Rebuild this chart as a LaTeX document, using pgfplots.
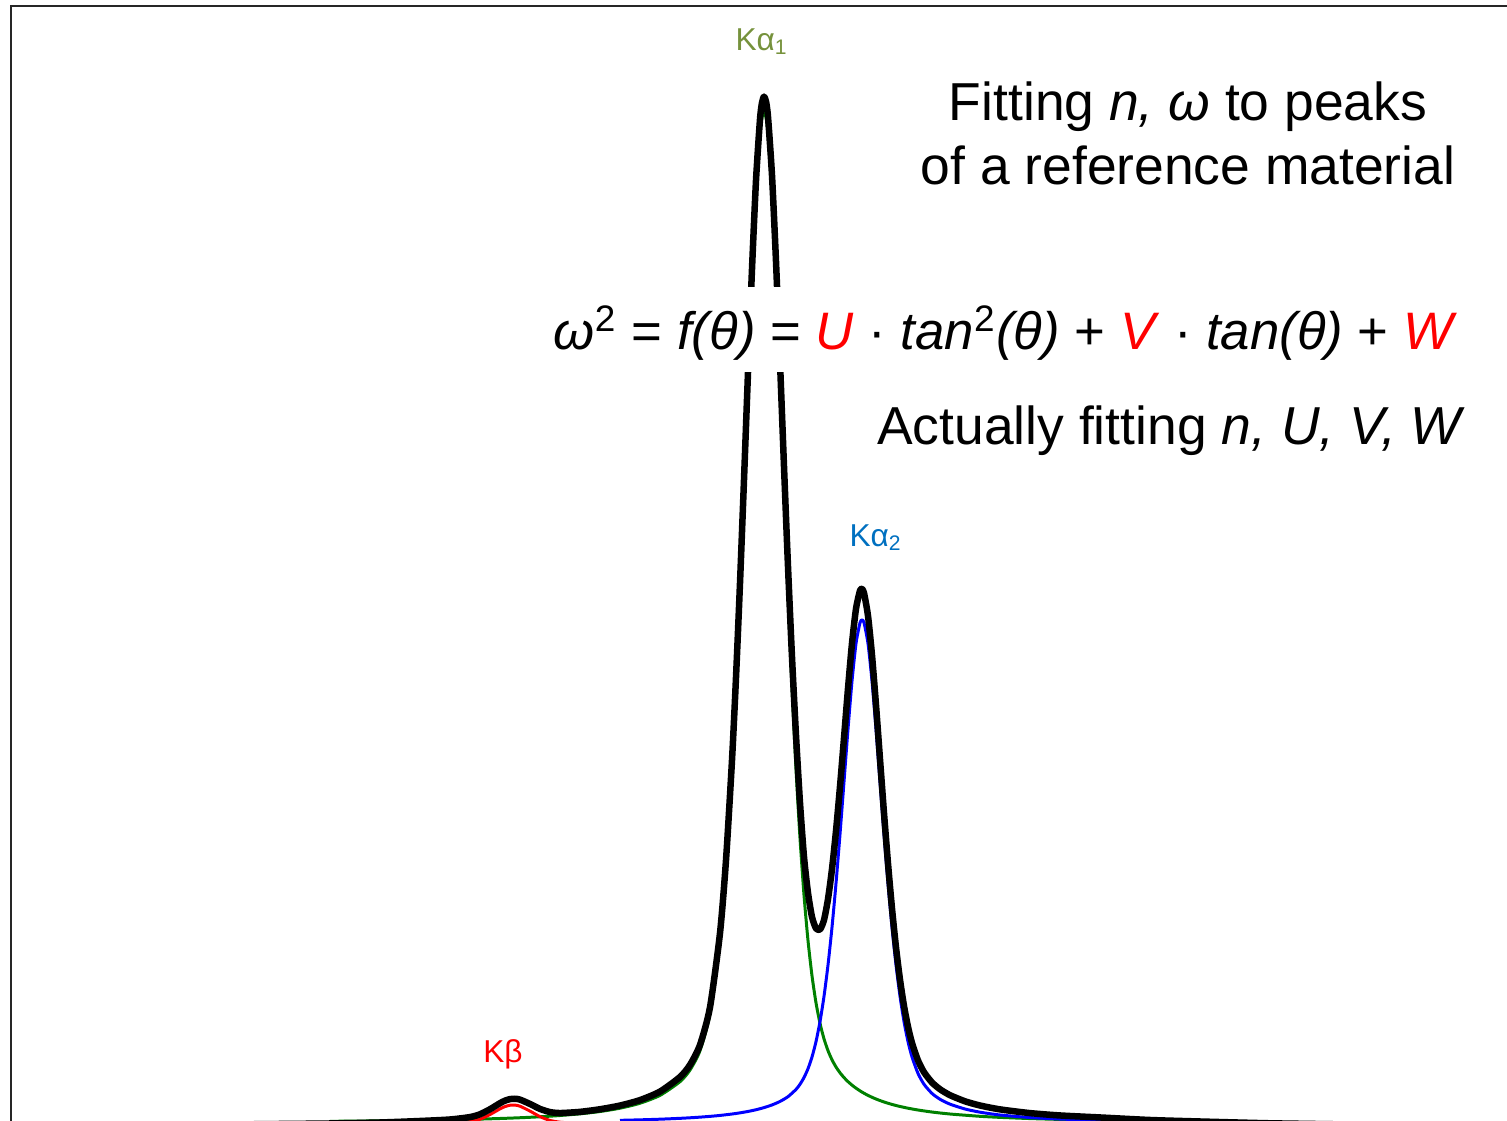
\documentclass[border=0pt]{standalone}
\usepackage{pgfplots}
\pgfplotsset{compat=1.18}
\usepackage{pgfplotstable}
\usepackage{fontspec}
\setmainfont{Liberation Sans}

\definecolor{kaone}{RGB}{118,146,60}
\definecolor{katwo}{RGB}{0,112,192}
\definecolor{curvegreen}{RGB}{0,128,0}

% K-beta component
\pgfplotstableread{
x y
450 -2.00
460 -1.68
470 -0.73
480 1.78
490 6.44
500 12.13
505 14.42
510 15.77
515 15.90
520 14.78
530 9.90
540 4.34
550 0.53
560 -1.24
570 -1.83
}\kbeta

% K-alpha1 component
\pgfplotstableread{
x y
330 -0.33
380 0.13
420 0.66
450 1.18
470 1.63
480 1.88
490 2.18
500 2.49
510 2.85
520 3.25
530 3.70
540 4.22
550 4.80
560 5.48
580 7.16
600 9.47
620 12.79
640 17.74
660 25.62
680 39.34
690 50.95
700 70.31
710 107.15
720 180.42
726 252.61
732 351.98
736 434.11
740 527.94
744 630.62
748 737.18
752 839.73
756 927.41
760 987.50
762 1003.55
764 1009.00
766 1003.55
768 987.50
772 927.41
776 839.73
780 737.18
784 630.62
788 527.94
792 434.11
796 351.98
800 282.56
804 225.72
808 180.42
812 145.13
816 118.11
820 97.61
824 82.11
828 70.31
832 61.19
836 54.00
840 48.20
844 43.39
848 39.34
852 35.85
856 32.81
860 30.13
864 27.73
868 25.62
872 23.71
876 21.99
880 20.43
884 19.03
888 17.74
892 16.57
896 15.50
900 14.52
908 12.79
918 10.98
932 8.95
950 6.97
980 4.68
1000 3.61
1030 2.43
1060 1.58
1100 0.78
1150 0.11
1200 -0.34
}\kaone

% K-alpha2 component
\pgfplotstableread{
x y
620 0.66
640 1.15
660 1.79
680 2.66
690 3.20
700 3.85
710 4.62
720 5.56
732 6.97
740 8.14
748 9.54
756 11.25
764 13.38
772 16.05
780 19.54
788 24.34
796 31.57
800 36.72
804 43.44
808 52.30
812 64.02
816 79.41
820 99.35
824 124.68
828 156.04
832 193.77
836 237.65
840 286.77
844 339.23
848 391.82
852 439.91
856 477.46
860 498.29
862 501.00
864 498.29
868 477.46
872 439.91
876 391.82
880 339.23
884 286.77
888 237.65
892 193.77
896 156.04
900 124.68
904 99.35
908 79.41
912 64.02
918 47.56
924 36.72
932 27.55
940 21.73
950 16.83
965 11.99
980 8.80
1000 5.99
1030 3.45
1060 1.95
1100 0.75
1150 -0.12
1200 -0.63
1270 -1.06
}\katwo

% Measured pattern
\pgfplotstableread{
x y
230 -3.50
280 -3.00
330 -2.50
380 -1.50
420 0.00
450 1.50
470 3.92
480 6.73
490 11.75
500 17.81
505 20.32
510 21.88
515 22.24
520 21.36
530 17.02
540 12.07
550 8.93
560 7.95
580 9.12
600 11.74
620 15.45
640 20.89
660 29.41
680 44.00
690 56.15
700 76.16
710 113.77
720 187.98
726 260.83
732 360.95
736 443.64
740 538.08
744 641.42
748 748.72
752 852.08
756 940.66
760 1001.75
762 1018.34
764 1024.38
766 1019.54
768 1004.13
772 945.46
776 859.40
780 758.72
784 654.35
788 554.28
792 463.66
796 385.55
800 318.00
804 264.00
808 228.00
812 204.00
816 192.50
820 191.50
824 201.00
828 222.00
832 252.00
836 290.00
840 334.50
844 383.00
848 432.50
852 477.76
856 512.27
860 530.42
862 531.91
864 528.02
868 505.08
872 465.62
876 415.81
880 361.66
884 307.80
888 257.39
892 212.34
896 173.54
900 141.20
904 114.97
908 94.20
912 78.04
918 60.54
924 48.77
932 38.50
940 31.73
950 25.80
965 19.69
980 15.48
1000 11.60
1030 7.88
1060 5.53
1100 3.53
1150 1.00
1200 -0.50
1270 -2.30
1350 -3.50
}\total

\begin{document}
\begin{tikzpicture}
\useasboundingbox (0,0) rectangle (15.07,11.21);
\begin{axis}[
  at={(0,0)}, anchor=south west,
  width=15.07cm, height=11.21cm, scale only axis,
  xmin=0, xmax=1507, ymin=0, ymax=1121,
  hide axis,
]
% frame
\draw[line width=0.6pt, black!85] (axis cs:11,0) -- (axis cs:11,1115) -- (axis cs:1507,1115);

\addplot[curvegreen, line width=0.85pt, line join=round, smooth, tension=0.4] table[x=x,y=y] {\kaone};
\addplot[blue, line width=0.85pt, line join=round, smooth, tension=0.4] table[x=x,y=y] {\katwo};
\addplot[red, line width=0.85pt, line join=round, smooth, tension=0.4] table[x=x,y=y] {\kbeta};
\addplot[black, line width=1.85pt, line join=round, smooth, tension=0.4] table[x=x,y=y] {\total};

% peak labels
\node[kaone, font=\fontsize{9}{11}\selectfont, anchor=base] at (axis cs:762,1070) {Kα\textsubscript{1}};
\node[katwo, font=\fontsize{9}{11}\selectfont, anchor=base] at (axis cs:876,574) {Kα\textsubscript{2}};
\node[red, font=\fontsize{9}{11}\selectfont, anchor=base] at (axis cs:503,58) {Kβ};

% annotations
\node[font=\fontsize{15.2}{18}\selectfont, anchor=base, inner sep=0pt] at (axis cs:1188,1000) {Fitting \textit{n, ω} to peaks};
\node[font=\fontsize{15.2}{18}\selectfont, anchor=base, inner sep=0pt] at (axis cs:1188,936) {of a reference material};
\node[font=\fontsize{15}{18}\selectfont, anchor=base east, fill=white, inner xsep=0pt, inner ysep=0pt, text height=6.3mm, text depth=2.2mm] at (axis cs:1458,771)
  {\textit{ω}\textsuperscript{2} = \textit{f(θ)} = \textcolor{red}{\textit{U}} · \textit{tan}\textsuperscript{2}\textit{(θ)} + \textcolor{red}{\textit{V}} · \textit{tan(θ)} + \textcolor{red}{\textit{W}}};
\node[font=\fontsize{15.2}{18}\selectfont, anchor=base east, inner sep=0pt] at (axis cs:1466,676) {Actually fitting \textit{n, U, V, W}};
\end{axis}
\end{tikzpicture}
\end{document}
